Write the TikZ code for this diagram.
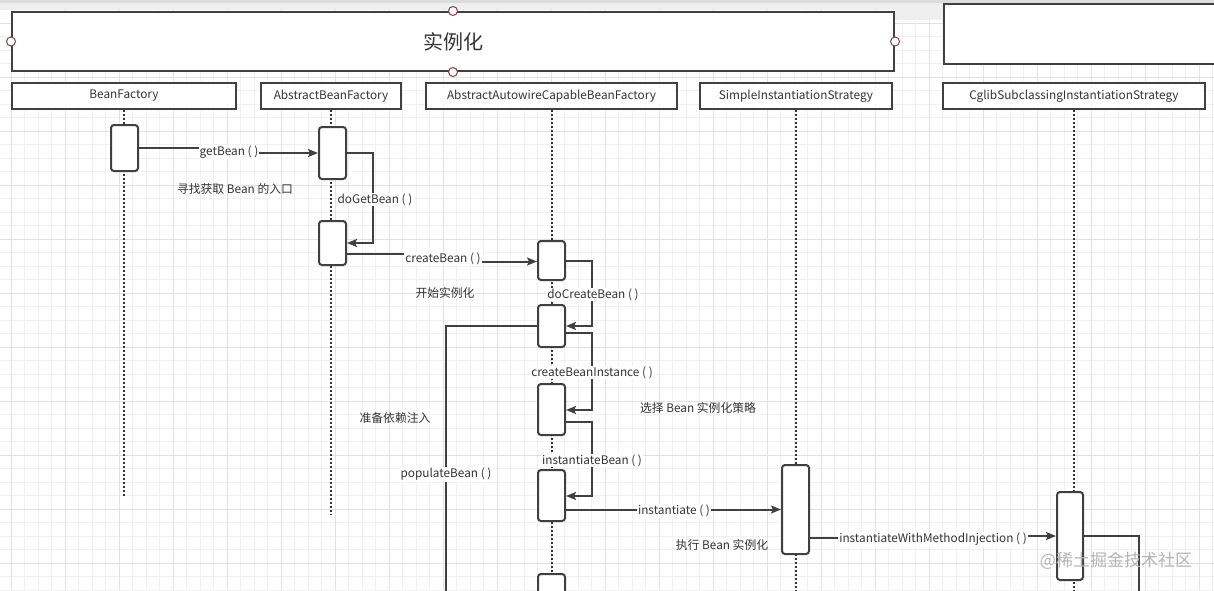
\documentclass[tikz,border=0pt]{standalone}
\usepackage{fontspec}
\setmainfont{Noto Sans CJK SC}
\usetikzlibrary{arrows.meta}
\definecolor{ink}{HTML}{404040}
\definecolor{txt}{HTML}{333333}
\definecolor{gridminor}{HTML}{F1F1F1}
\definecolor{gridmajor}{HTML}{E2E2E2}
\definecolor{portc}{HTML}{8B3A4A}
\definecolor{bandA}{HTML}{DCDCDC}
\definecolor{bandB}{HTML}{EFEFEF}
\definecolor{wmark}{HTML}{B4B4B4}
\tikzset{
  lbl/.style={font=\fontsize{11.8}{13}\selectfont, text=txt, inner sep=1pt},
  elbl/.style={lbl, fill=white},
  hdr/.style={draw=ink, line width=2pt, fill=white, inner sep=0pt, minimum height=26pt, lbl},
  actbox/.style={draw=ink, line width=2pt, fill=white, rounded corners=3pt, inner sep=0pt, minimum width=27pt},
  lifeline/.style={draw=txt, line width=2pt, dash pattern=on 2pt off 2pt},
  msg/.style={draw=ink, line width=2pt},
  arr/.style={msg, -{Stealth[length=10pt,width=8pt,inset=2pt]}},
  port/.style={circle, draw=portc, line width=1pt, fill=white, inner sep=0pt, minimum size=9pt},
  minorline/.style={draw=gridminor, line width=1pt},
  majorline/.style={draw=gridmajor, line width=1pt}
}
\begin{document}
\begin{tikzpicture}[x=1pt,y=-1pt]
\useasboundingbox (0,0) rectangle (1214,590);
\clip (0,0) rectangle (1214,590);
\fill[white] (0,0) rectangle (1214,590);
% grid
\foreach \i in {-1,...,90} \draw[minorline] ({11.3+13.5*\i},0) -- ({11.3+13.5*\i},590);
\foreach \j in {-2,...,43} \draw[minorline] (0,{23+13.5*\j}) -- (1214,{23+13.5*\j});
\foreach \i in {0,...,22} \draw[majorline] ({11.3+54*\i},0) -- ({11.3+54*\i},590);
\foreach \j in {0,...,11} \draw[majorline] (0,{23+54*\j}) -- (1214,{23+54*\j});
% top band
\fill[bandB] (0,0) rectangle (1214,10);
\fill[bandB] (894,10) rectangle (943,20);
\fill[bandA] (0,0) rectangle (1214,3);

% title box and right box
\node[draw=ink, line width=2pt, fill=white, minimum width=882pt, minimum height=59pt, inner sep=0pt,
      font=\fontsize{20}{24}\selectfont, text=txt] (title) at (453,41.5) {实例化};
\node[draw=ink, line width=2pt, fill=white, minimum width=275pt, minimum height=60pt, inner sep=0pt, anchor=north west] (rbox) at (943,3) {};
\node[port] (p1) at (title.north) {};
\node[port] (p2) at (title.west) {};
\node[port] (p3) at (title.east) {};
\node[port] (p4) at (title.south) {};

% headers
\node[hdr, minimum width=224pt] (hBF) at (124,96) {BeanFactory};
\node[hdr, minimum width=140pt] (hABF) at (331,96) {AbstractBeanFactory};
\node[hdr, minimum width=251pt] (hAAC) at (551.5,96) {AbstractAutowireCapableBeanFactory};
\node[hdr, minimum width=192pt] (hSIS) at (796,96) {SimpleInstantiationStrategy};
\node[hdr, minimum width=262pt] (hCS) at (1074,96) {CglibSubclassingInstantiationStrategy};

% lifeline ends
\coordinate (eBF) at (124,497);
\coordinate (eABF) at (331,515);
\coordinate (eAAC) at (551.5,596);
\coordinate (eSIS) at (796,596);
\coordinate (eCS) at (1074,596);
\draw[lifeline] (hBF.south) -- (eBF);
\draw[lifeline] (hABF.south) -- (eABF);
\draw[lifeline] (hAAC.south) -- (eAAC);
\draw[lifeline] (hSIS.south) -- (eSIS);
\draw[lifeline] (hCS.south) -- (eCS);

% activation boxes
\node[actbox, minimum height=46pt] (aBF) at (124.5,148) {};
\node[actbox, minimum height=52pt] (aABF1) at (332.5,153) {};
\node[actbox, minimum height=44pt] (aABF2) at (332.5,243) {};
\node[actbox, minimum height=39pt] (aAAC1) at (551.5,260.5) {};
\node[actbox, minimum height=42pt] (aAAC2) at (551.5,326) {};
\node[actbox, minimum height=51pt] (aAAC3) at (551.5,409.5) {};
\node[actbox, minimum height=51pt] (aAAC4) at (551.5,495.5) {};
\node[actbox, minimum height=40pt] (aAAC5) at (551.5,594) {};
\node[actbox, minimum height=89pt] (aSIS) at (795.5,509.5) {};
\node[actbox, minimum height=88pt, minimum width=26pt] (aCS) at (1070,536) {};

% free end points
\coordinate (popEnd) at (446,596);
\coordinate (csEnd) at (1139,596);

% messages
\draw[arr] (aBF.east |- 0,148) -- (229,148) -- (229,153) -- (aABF1.west |- 0,153);
\node[elbl] (lGet) at (229,152.5) {getBean ( )};

\draw[arr] (aABF1.east |- 0,153) -- (373,153) -- (373,243) -- (aABF2.east |- 0,243);
\node[elbl] (lDoGet) at (375,199.5) {doGetBean ( )};

\draw[arr] (aABF2.east |- 0,254) -- (443,254) -- (443,261.5) -- (aAAC1.west |- 0,261.5);
\node[elbl] (lCreate) at (443,258.5) {createBean ( )};

\draw[arr] (aAAC1.east |- 0,261) -- (592,261) -- (592,326) -- (aAAC2.east |- 0,326);
\node[elbl] (lDoCreate) at (593,294.5) {doCreateBean ( )};

\draw[arr] (aAAC2.east |- 0,333) -- (592,333) -- (592,410) -- (aAAC3.east |- 0,410);
\node[elbl] (lCBI) at (592,372.5) {createBeanInstance ( )};

\draw[arr] (aAAC3.east |- 0,422) -- (592,422) -- (592,496) -- (aAAC4.east |- 0,496);
\node[elbl] (lIB) at (592,460.5) {instantiateBean ( )};

\draw[msg] (aAAC2.west |- 0,326) -- (446,326) -- (popEnd);
\node[elbl] (lPop) at (446,474.5) {populateBean ( )};

\draw[arr] (aAAC4.east |- 0,509.5) -- (aSIS.west |- 0,509.5);
\node[elbl] (lInst) at (674,511) {instantiate ( )};

\draw[arr] (aSIS.east |- 0,538) -- (933,538) -- (933,536) -- (aCS.west |- 0,536);
\node[elbl] (lIWMI) at (933,539.5) {instantiateWithMethodInjection ( )};

\draw[msg] (aCS.east |- 0,536) -- (1139,536) -- (csEnd);

% free notes
\node[lbl] (n1) at (235,188.5) {寻找获取 Bean 的入口};
\node[lbl] (n2) at (445,292.5) {开始实例化};
\node[lbl] (n3) at (698,407.5) {选择 Bean 实例化策略};
\node[lbl] (n4) at (395,417.5) {准备依赖注入};
\node[lbl] (n5) at (722,544.5) {执行 Bean 实例化};

% watermark
\node[font=\fontsize{17}{20}\selectfont, text=wmark, inner sep=0pt] (wm) at (1116,561) {@稀土掘金技术社区};
\end{tikzpicture}
\end{document}
